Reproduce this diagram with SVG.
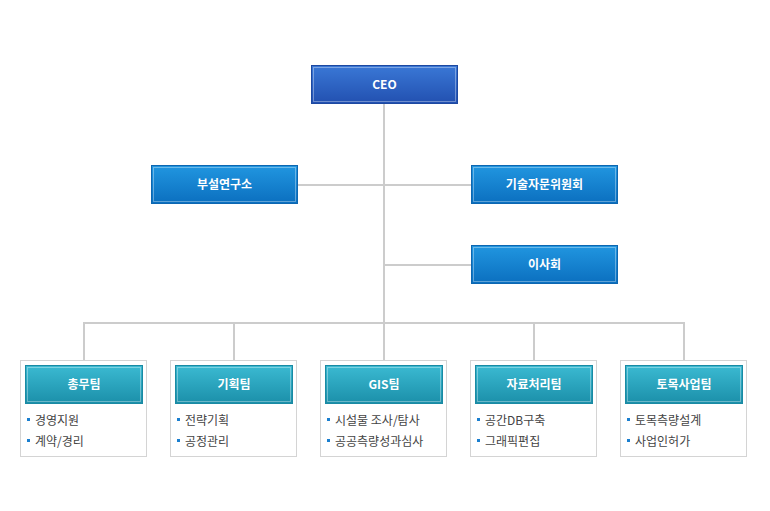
<svg xmlns="http://www.w3.org/2000/svg" width="770" height="511" viewBox="0 0 770 511">
<defs>
<linearGradient id="gCeo" x1="0" y1="0" x2="0" y2="1"><stop offset="0" stop-color="#3a78d6"/><stop offset="1" stop-color="#2250b0"/></linearGradient>
<linearGradient id="gBlue" x1="0" y1="0" x2="0" y2="1"><stop offset="0" stop-color="#2196e0"/><stop offset="1" stop-color="#0b6fbf"/></linearGradient>
<linearGradient id="gTeal" x1="0" y1="0" x2="0" y2="1"><stop offset="0" stop-color="#3bbad2"/><stop offset="1" stop-color="#1b8fa9"/></linearGradient>
<style>
.ceo{fill:url(#gCeo);stroke:#1d48a0;stroke-width:1}
.blue{fill:url(#gBlue);stroke:#0d66b0;stroke-width:1}
.teal{fill:url(#gTeal);stroke:#1a8aa3;stroke-width:1}
.inner{fill:none;stroke:#ffffff;stroke-opacity:0.35;stroke-width:1}
.panel{fill:#ffffff;stroke:#d4d4d4;stroke-width:1}
.lbl{font-family:"Noto Sans CJK KR","Noto Sans",sans-serif;font-size:12px;font-weight:bold;fill:#ffffff;text-anchor:middle}
.item{font-family:"Noto Sans CJK KR","Noto Sans",sans-serif;font-size:12px;fill:#444444}
.bul{fill:#1a7fd0}
.con{stroke:#cccccc;stroke-width:2;fill:none}
</style>
</defs>
<rect width="770" height="511" fill="#ffffff"/>
<g id="connectors">
<path class="con" d="M384 104 V323 M298 185 H471 M384 265 H471 M84 323 H684 M84 322 V360 M234 322 V360 M384 322 V360 M534 322 V360 M684 322 V360"/>
</g>
<g id="ceo"><rect class="ceo" x="311.5" y="65.5" width="146" height="38"/><rect class="inner" x="313.5" y="67.5" width="142" height="34"/><text class="lbl" x="384.5" y="89">CEO</text></g>
<g id="lab"><rect class="blue" x="151.5" y="165.5" width="146" height="38"/><rect class="inner" x="153.5" y="167.5" width="142" height="34"/><text class="lbl" x="224.5" y="189">부설연구소</text></g>
<g id="advisory"><rect class="blue" x="471.5" y="165.5" width="146" height="38"/><rect class="inner" x="473.5" y="167.5" width="142" height="34"/><text class="lbl" x="544.5" y="189">기술자문위원회</text></g>
<g id="board"><rect class="blue" x="471.5" y="245.5" width="146" height="38"/><rect class="inner" x="473.5" y="247.5" width="142" height="34"/><text class="lbl" x="544.5" y="269">이사회</text></g>
<g id="team1"><rect class="panel" x="20.5" y="360.5" width="126" height="96"/><rect class="teal" x="25.5" y="365.5" width="117" height="38"/><rect class="inner" x="27.5" y="367.5" width="113" height="34"/><text class="lbl" x="84" y="389">총무팀</text>
<rect class="bul" x="27" y="418" width="3" height="3"/><text class="item" x="35" y="425">경영지원</text>
<rect class="bul" x="27" y="439" width="3" height="3"/><text class="item" x="35" y="446">계약/경리</text></g>
<g id="team2"><rect class="panel" x="170.5" y="360.5" width="126" height="96"/><rect class="teal" x="175.5" y="365.5" width="117" height="38"/><rect class="inner" x="177.5" y="367.5" width="113" height="34"/><text class="lbl" x="234" y="389">기획팀</text>
<rect class="bul" x="177" y="418" width="3" height="3"/><text class="item" x="185" y="425">전략기획</text>
<rect class="bul" x="177" y="439" width="3" height="3"/><text class="item" x="185" y="446">공정관리</text></g>
<g id="team3"><rect class="panel" x="320.5" y="360.5" width="126" height="96"/><rect class="teal" x="325.5" y="365.5" width="117" height="38"/><rect class="inner" x="327.5" y="367.5" width="113" height="34"/><text class="lbl" x="384" y="389">GIS팀</text>
<rect class="bul" x="327" y="418" width="3" height="3"/><text class="item" x="335" y="425">시설물 조사/탐사</text>
<rect class="bul" x="327" y="439" width="3" height="3"/><text class="item" x="335" y="446">공공측량성과심사</text></g>
<g id="team4"><rect class="panel" x="470.5" y="360.5" width="126" height="96"/><rect class="teal" x="475.5" y="365.5" width="117" height="38"/><rect class="inner" x="477.5" y="367.5" width="113" height="34"/><text class="lbl" x="534" y="389">자료처리팀</text>
<rect class="bul" x="477" y="418" width="3" height="3"/><text class="item" x="485" y="425">공간DB구축</text>
<rect class="bul" x="477" y="439" width="3" height="3"/><text class="item" x="485" y="446">그래픽편집</text></g>
<g id="team5"><rect class="panel" x="620.5" y="360.5" width="126" height="96"/><rect class="teal" x="625.5" y="365.5" width="117" height="38"/><rect class="inner" x="627.5" y="367.5" width="113" height="34"/><text class="lbl" x="684" y="389">토목사업팀</text>
<rect class="bul" x="627" y="418" width="3" height="3"/><text class="item" x="635" y="425">토목측량설계</text>
<rect class="bul" x="627" y="439" width="3" height="3"/><text class="item" x="635" y="446">사업인허가</text></g>
</svg>
